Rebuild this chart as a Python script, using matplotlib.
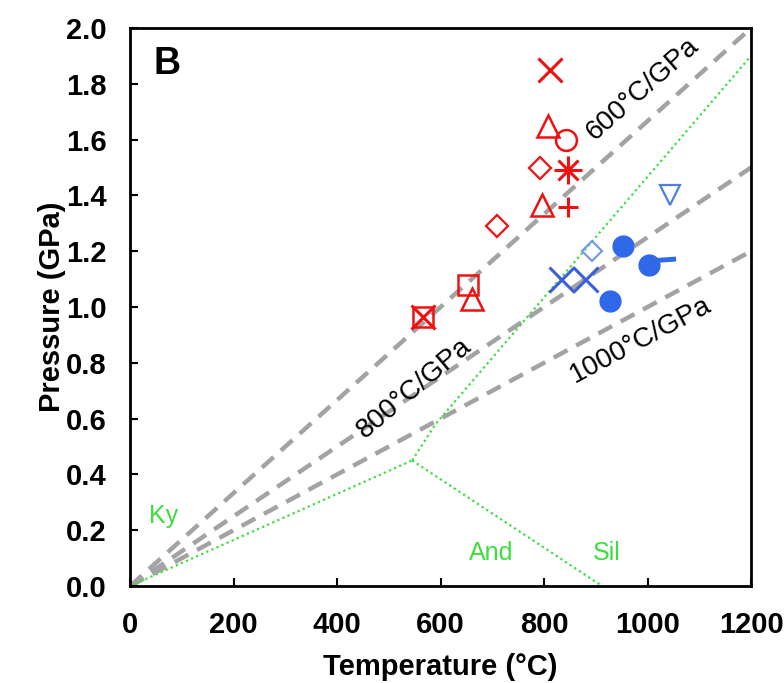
import numpy as np
import matplotlib
matplotlib.use("Agg")
import matplotlib.pyplot as plt

plt.rcParams['font.family'] = ['Liberation Sans', 'DejaVu Sans']

# geotherm gradients (degC per GPa)
gradients = [600, 800, 1000]
grad_labels = ['600°C/GPa', '800°C/GPa', '1000°C/GPa']

# Al2SiO5 phase diagram (T in degC, P in GPa)
ky_and_T = [0, 545]
ky_and_P = [0.0, 0.45]
and_sil_T = [545, 912]
and_sil_P = [0.45, 0.0]
ky_sil_T = [545, 590, 1200]
ky_sil_P = [0.45, 0.58, 1.90]

# red samples
red_x_T = [812, 566]
red_x_P = [1.85, 0.965]
red_tri_T = [808, 796, 661]
red_tri_P = [1.65, 1.365, 1.03]
red_circ_T = [843]
red_circ_P = [1.60]
red_dia_T = [792, 709]
red_dia_P = [1.50, 1.29]
red_star_T = [846]
red_star_P = [1.49]
red_plus_T = [846]
red_plus_P = [1.36]
red_sq_T = [653, 566]
red_sq_P = [1.08, 0.965]

# blue samples
blue_x_T = [833, 880]
blue_x_P = [1.10, 1.10]
blue_dia_T = [893]
blue_dia_P = [1.20]
blue_tri_T = [1043]
blue_tri_P = [1.40]
blue_dot_T = [953, 1003, 928]
blue_dot_P = [1.22, 1.15, 1.02]
blue_tail_T = [1003, 1055]
blue_tail_P = [1.165, 1.172]

fig = plt.figure(figsize=(7.84, 6.83), dpi=100)
ax = fig.add_axes([0.166, 0.142, 0.792, 0.817])

# geotherms
T = np.array([0, 1300])
for g in gradients:
    ax.plot(T, T / g, color='#a3a3a3', lw=3.2, ls=(0, (3.5, 2.2)), zorder=1)

# phase boundaries
green = '#3ddd3d'
for tt, pp in [(ky_and_T, ky_and_P), (and_sil_T, and_sil_P), (ky_sil_T, ky_sil_P)]:
    ax.plot(tt, pp, color=green, lw=1.6, ls=(0, (1, 1.5)), zorder=2)

red = '#ee1111'
ax.plot(red_x_T, red_x_P, 'x', color=red, ms=17, mew=2.2, ls='none')
ax.plot(red_tri_T, red_tri_P, '^', mfc='none', mec=red, ms=16, mew=1.8, ls='none')
ax.plot(red_circ_T, red_circ_P, 'o', mfc='none', mec=red, ms=15, mew=1.8, ls='none')
ax.plot(red_dia_T, red_dia_P, 'D', mfc='none', mec=red, ms=11, mew=1.6, ls='none')
ax.plot(red_star_T, red_star_P, 'x', color=red, ms=15, mew=2.2, ls='none')
ax.plot(red_star_T, red_star_P, '+', color=red, ms=20, mew=2.2, ls='none')
ax.plot(red_plus_T, red_plus_P, '+', color=red, ms=15, mew=2.2, ls='none')
ax.plot(red_sq_T, red_sq_P, 's', mfc='none', mec=red, ms=15, mew=1.8, ls='none')

ax.plot(blue_x_T, blue_x_P, 'x', color='#3a5fd6', ms=18, mew=2.2, ls='none')
ax.plot(blue_dia_T, blue_dia_P, 'D', mfc='none', mec='#6f95ee', ms=10, mew=1.5, ls='none')
ax.plot(blue_tri_T, blue_tri_P, 'v', mfc='none', mec='#4f7fe6', ms=15, mew=1.6, ls='none')
ax.plot(blue_tail_T, blue_tail_P, color='#2f68e8', lw=3.5, solid_capstyle='butt')
ax.plot(blue_dot_T, blue_dot_P, 'o', color='#2f68e8', ms=15, ls='none')

# labels
ax.text(990, 1.78, grad_labels[0], rotation=41.5, fontsize=20,
        ha='center', va='center', rotation_mode='anchor')
ax.text(549, 0.71, grad_labels[1], rotation=40, fontsize=20,
        ha='center', va='center', rotation_mode='anchor')
ax.text(987, 0.88, grad_labels[2], rotation=28, fontsize=20,
        ha='center', va='center', rotation_mode='anchor')
ax.text(64, 0.25, 'Ky', color=green, fontsize=18, ha='center', va='center')
ax.text(697, 0.12, 'And', color=green, fontsize=18, ha='center', va='center')
ax.text(920, 0.12, 'Sil', color=green, fontsize=18, ha='center', va='center')
ax.text(72, 1.87, 'B', fontsize=27, fontweight='bold', ha='center', va='center')

ax.set_xlim(0, 1200)
ax.set_ylim(0, 2.0)
ax.set_xticks(np.arange(0, 1201, 200))
ax.set_yticks(np.arange(0, 2.01, 0.2))
ax.set_yticklabels([f'{v:.1f}' for v in np.arange(0, 2.01, 0.2)])
ax.tick_params(direction='in', length=6, width=1.5, labelsize=21)
ax.tick_params(axis='x', pad=18)
ax.tick_params(axis='y', pad=17)
for lab in ax.get_xticklabels() + ax.get_yticklabels():
    lab.set_fontweight('bold')
for s in ax.spines.values():
    s.set_linewidth(2)
ax.set_xlabel('Temperature (°C)', fontsize=21, fontweight='bold', labelpad=10)
ax.set_ylabel('Pressure (GPa)', fontsize=21, fontweight='bold', labelpad=0)

fig.savefig('out.png', dpi=100)
